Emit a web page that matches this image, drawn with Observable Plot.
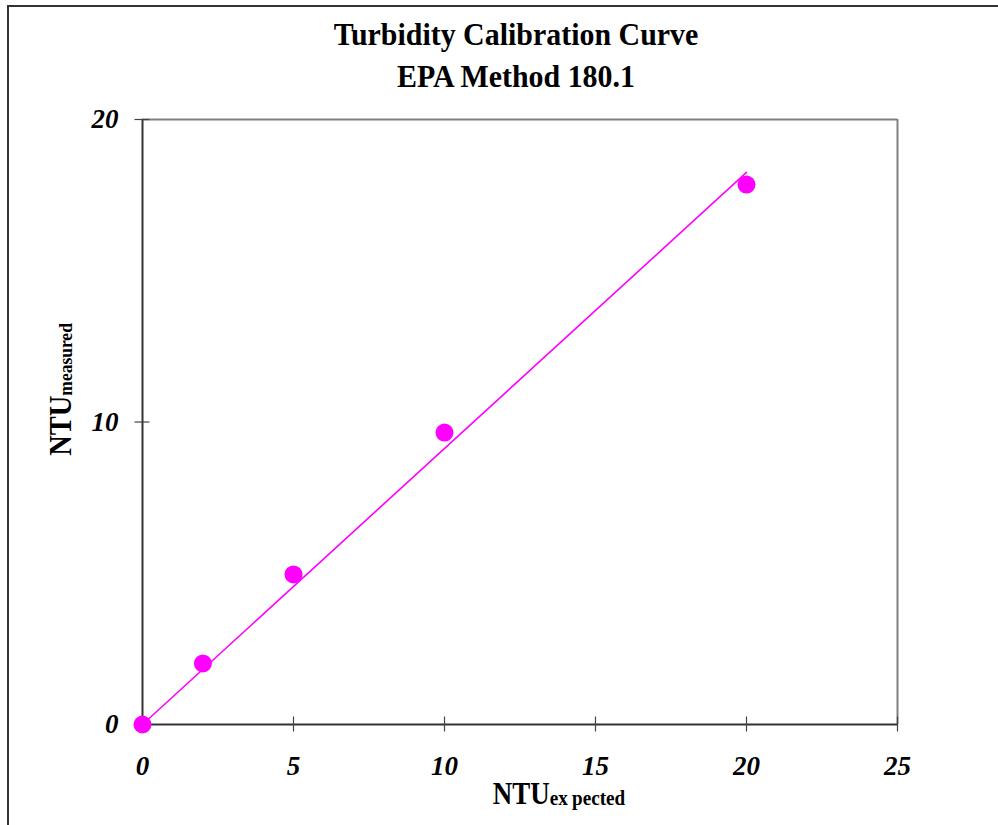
<!DOCTYPE html>
<html>
<head>
<meta charset="utf-8">
<script src="https://cdn.jsdelivr.net/npm/d3@7"></script>
<script src="https://cdn.jsdelivr.net/npm/@observablehq/plot@0.6"></script>
<style>
  html, body { margin: 0; padding: 0; background: #fff; }
  #wrap { position: relative; width: 998px; height: 825px; overflow: hidden; font-family: "Liberation Serif", "Times New Roman", serif; }
  #border { position: absolute; left: 7px; top: 5px; width: 1000px; height: 830px; border-left: 2px solid #333; border-top: 2px solid #333; }
  #chart { position: absolute; left: 0; top: 0; }
  .title { position: absolute; left: 0; width: 1032px; text-align: center; font-weight: bold; font-size: 32px; line-height: 32px; color: #000; transform: scaleX(0.935); transform-origin: 516px 0; white-space: nowrap; }
  .xlabel { position: absolute; left: 0; width: 1118px; text-align: center; top: 776px; font-weight: bold; font-size: 31px; line-height: 36px; white-space: nowrap; transform: scaleX(0.87); transform-origin: 559px 0; }
  .ylabel { position: absolute; left: 63px; top: 387px; width: 300px; margin-left: -150px; margin-top: -18px; line-height: 36px; text-align: center; font-weight: bold; font-size: 31px; transform: rotate(-90deg) scaleX(0.92); white-space: nowrap; }
  .sub { font-size: 22px; vertical-align: -1px; }
  .ysub { font-size: 19px; vertical-align: -1px; }
</style>
</head>
<body>
<div id="wrap">
  <div id="border"></div>
  <div class="title" style="top:18px">Turbidity Calibration Curve</div>
  <div class="title" style="top:60px">EPA Method 180.1</div>
  <div id="chart"></div>
  <div class="xlabel">NTU<span class="sub">ex<span style="margin-left:5px">pected</span></span></div>
  <div class="ylabel">NTU<span class="ysub">measured</span></div>
</div>
<script>
// Data
const expected = [0, 2, 5, 10, 20];
const measured = [0, 2.02, 4.96, 9.65, 17.85];
// Fitted calibration line (through origin)
const fitX = [0, 20];
const fitY = [0, 18.25];
// Ticks
const xTicks = [0, 5, 10, 15, 20, 25];
const yTicks = [0, 10, 20];

const points = expected.map((x, i) => ({x, y: measured[i]}));
const fit = fitX.map((x, i) => ({x, y: fitY[i]}));

const fontOpts = {fontSize: 27, fontWeight: "bold", fontStyle: "italic", fontFamily: "Liberation Serif, Times New Roman, serif"};

const chart = Plot.plot({
  width: 998,
  height: 825,
  marginLeft: 142,
  marginRight: 101,
  marginTop: 119,
  marginBottom: 101,
  style: {background: "transparent", fontFamily: "Liberation Serif, serif", color: "#000"},
  x: {domain: [0, 25]},
  y: {domain: [0, 20]},
  marks: [
    Plot.ruleY([20], {stroke: "#808080", strokeWidth: 2}),
    Plot.ruleX([25], {stroke: "#808080", strokeWidth: 2}),
    Plot.ruleY([0], {stroke: "#333", strokeWidth: 2}),
    Plot.ruleX([0], {stroke: "#333", strokeWidth: 2}),
    Plot.axisX({ticks: xTicks, tickSize: 15, dy: -7.5, text: null, label: null, stroke: "#444", strokeWidth: 1.2, strokeOpacity: 1}),
    Plot.axisY({ticks: yTicks, tickSize: 15, dx: 7.5, text: null, label: null, stroke: "#444", strokeWidth: 1.2, strokeOpacity: 1}),
    Plot.axisX({ticks: xTicks, tickSize: 0, tickPadding: 31, tickFormat: d => String(d), label: null, ...fontOpts}),
    Plot.axisY({ticks: yTicks, tickSize: 0, tickPadding: 24, tickFormat: d => String(d), label: null, ...fontOpts}),
    Plot.line(fit, {x: "x", y: "y", stroke: "#ff00ff", strokeWidth: 1.6}),
    Plot.dot(points, {x: "x", y: "y", r: 9, fill: "#ff00ff", stroke: "none"})
  ]
});
document.getElementById("chart").appendChild(chart);
</script>
</body>
</html>
